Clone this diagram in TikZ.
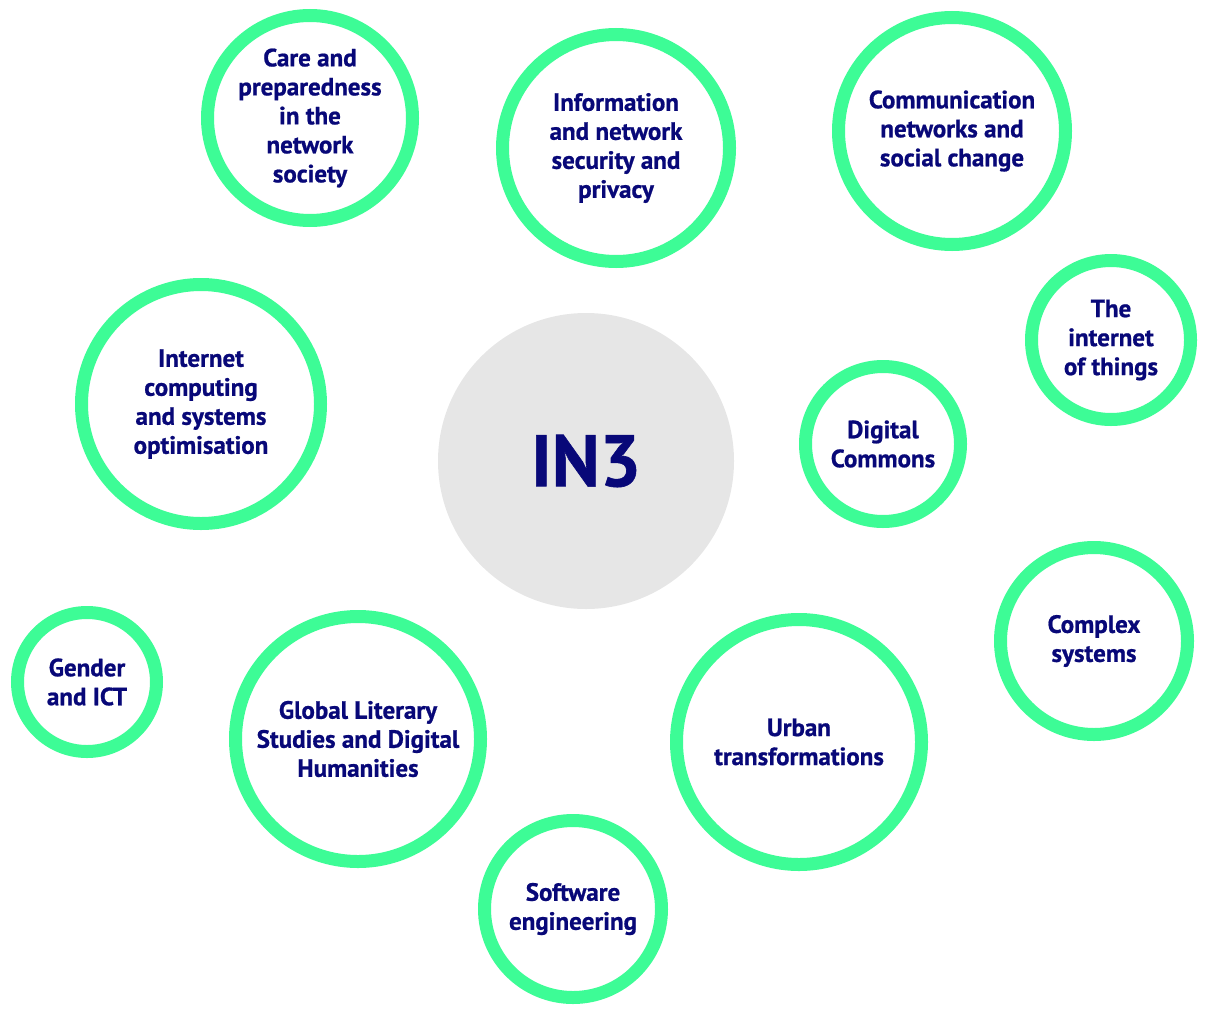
\documentclass[tikz,border=0pt]{standalone}
\usepackage{fontspec}
\setmainfont{PT Sans}[BoldFeatures={FakeBold=0.8}]
\definecolor{ringgreen}{RGB}{61,252,150}
\definecolor{textnavy}{RGB}{8,8,120}
\definecolor{hubgray}{RGB}{230,230,230}
\tikzset{
  topic/.style={circle, draw=ringgreen, line width=13pt, fill=white,
    align=center, text=textnavy, inner sep=0pt,
    font=\fontsize{25}{29}\selectfont\bfseries},
  hub/.style={circle, fill=hubgray, inner sep=0pt, text=textnavy,
    font=\fontsize{73}{73}\selectfont\bfseries}
}
\begin{document}
\begin{tikzpicture}[x=1pt, y=-1pt]
    \useasboundingbox (0,0) rectangle (1209,1009);
    % We start by placing the centre
    \node[hub, minimum size=296pt] (in3) at (586,461) {IN3};

    % then the topics round it
    \node[topic, minimum size=205pt] (care) at (310,118)
      {Care and\\preparedness\\in the\\network\\society};
    \node[topic, minimum size=227pt] (security) at (616,148)
      {Information\\and network\\security and\\privacy};
    \node[topic, minimum size=227pt] (communication) at (952,131)
      {Communication\\networks and\\social change};
    \node[topic, minimum size=159pt] (things) at (1111,340)
      {The\\internet\\of things};
    \node[topic, minimum size=155pt] (commons) at (883,444)
      {Digital\\Commons};
    \node[topic, minimum size=239pt] (computing) at (201,404)
      {Internet\\computing\\and systems\\optimisation};
    \node[topic, minimum size=139pt] (gender) at (87,682)
      {Gender\\and ICT};
    \node[topic, minimum size=245pt] (literary) at (358,739)
      {Global Literary\\Studies and Digital\\Humanities};
    \node[topic, minimum size=245pt] (urban) at (799,742)
      {Urban\\transformations};
    \node[topic, minimum size=187pt] (complex) at (1094,641)
      {Complex\\systems};
    \node[topic, minimum size=177pt] (software) at (573,909)
      {Software\\engineering};
\end{tikzpicture}
\end{document}
